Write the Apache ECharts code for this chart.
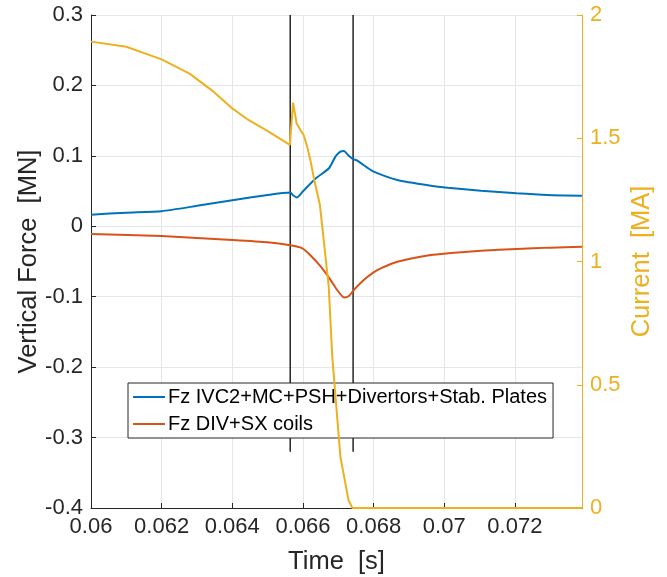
<!DOCTYPE html>
<html>
<head>
<meta charset="utf-8">
<script src="https://cdn.jsdelivr.net/npm/echarts@6/dist/echarts.min.js"></script>
<style>
    html, body { margin: 0; padding: 0; background: #fff; }
    #chartDiv { width: 667px; height: 577px; }
</style>
</head>
<body>
<div id="chartDiv"></div>
<script>
// Fz IVC2+MC+PSH+Divertors+Stab. Plates  (左轴 MN)
var timeIVC = [0.0600, 0.0610, 0.0620, 0.0630, 0.0640, 0.0650, 0.06564, 0.06572, 0.06583, 0.0660, 0.06636,
    0.06673, 0.06692, 0.06706, 0.06716, 0.06728, 0.06742, 0.06753, 0.0678, 0.0680, 0.06867, 0.06962,
    0.0701, 0.07104, 0.07205, 0.07293, 0.0739];
var fzIVC = [0.0165, 0.0193, 0.0215, 0.029, 0.037, 0.0445, 0.048, 0.044, 0.041, 0.0497, 0.068,
    0.082, 0.099, 0.106, 0.107, 0.101, 0.0955, 0.0935, 0.084, 0.0776, 0.0658, 0.0577,
    0.0548, 0.0506, 0.0469, 0.0445, 0.0435];

// Fz DIV+SX coils
var timeDIV = [0.0600, 0.0620, 0.0640, 0.0650, 0.06564, 0.06597, 0.06621, 0.0665, 0.06678, 0.06697, 0.06716,
    0.0673, 0.06744, 0.06773, 0.0680, 0.0682, 0.06867, 0.06962, 0.0701, 0.07104, 0.07205, 0.0730, 0.0739];
var fzDIV = [-0.011, -0.0138, -0.0195, -0.0228, -0.027, -0.031, -0.041, -0.057, -0.076, -0.0905, -0.101,
    -0.099, -0.0905, -0.076, -0.0655, -0.0597, -0.0503, -0.0408, -0.0384, -0.0347, -0.0322, -0.0303, -0.029];

// 电流 (右轴 MA)
var timeCur = [0.0600, 0.0610, 0.0620, 0.0628, 0.06347, 0.0640, 0.06442, 0.06498, 0.06563, 0.06572, 0.06582,
    0.06593, 0.06602, 0.06612, 0.06621, 0.06631, 0.06648, 0.06673, 0.06683, 0.06706, 0.06729, 0.0674, 0.0739];
var current = [1.892, 1.871, 1.820, 1.761, 1.689, 1.621, 1.578, 1.531, 1.473, 1.644, 1.561,
    1.533, 1.513, 1.466, 1.412, 1.337, 1.230, 0.898, 0.614, 0.208, 0.032, 0, 0];

// 两条竖线
var cursorTimes = [0.06564, 0.06742];
var cursorRange = [-0.32, 0.3];

var legendNames = ['Fz IVC2+MC+PSH+Divertors+Stab. Plates', 'Fz DIV+SX coils'];

(function() {
    var FONT = "'Liberation Sans', Arial, Helvetica, sans-serif";
    var AXIS_GRAY = '#262626';
    var COLORS = ['#0072BD', '#D95319', '#EDB120'];

    function zip(xs, ys) {
        var out = [];
        for (var i = 0; i < xs.length; i++) out.push([xs[i], ys[i]]);
        return out;
    }
    function fmt(v) {
        return String(parseFloat(v.toFixed(4)));
    }
    function curve(name, axis, xs, ys, color, smooth, z) {
        return {
            name: name, type: 'line', yAxisIndex: axis, data: zip(xs, ys),
            symbol: 'none', smooth: smooth,
            lineStyle: { color: color, width: 2 }, itemStyle: { color: color }, z: z
        };
    }

    var series = [
        curve(legendNames[0], 0, timeIVC, fzIVC, COLORS[0], 0.2, 3),
        curve(legendNames[1], 0, timeDIV, fzDIV, COLORS[1], 0.2, 3),
        curve('Current', 1, timeCur, current, COLORS[2], false, 4)
    ];
    cursorTimes.forEach(function(t, i) {
        series.push({
            name: 'cursor' + i, type: 'line', yAxisIndex: 0,
            data: [[t, cursorRange[1]], [t, cursorRange[0]]],
            symbol: 'none', silent: true,
            lineStyle: { color: AXIS_GRAY, width: 1.5 }, z: 2
        });
    });

    var option = {
        animation: false,
        backgroundColor: '#fff',
        textStyle: { fontFamily: FONT },
        grid: { left: 91, right: 85, top: 15, bottom: 69, containLabel: false, outerBoundsMode: 'none' },
        legend: {
            data: legendNames.map(function(n) { return { name: n, icon: 'rect' }; }),
            orient: 'vertical',
            left: 128, top: 383,
            padding: [4, 6, 4, 5],
            itemGap: 7,
            itemWidth: 32,
            itemHeight: 2,
            backgroundColor: '#fff',
            borderColor: AXIS_GRAY,
            borderWidth: 1,
            borderRadius: 0,
            textStyle: { fontFamily: FONT, fontSize: 20, color: '#000', padding: [0, 0, 0, -2] }
        },
        xAxis: {
            type: 'value',
            min: 0.06, max: 0.0739, interval: 0.002,
            name: 'Time  [s]', nameLocation: 'middle', nameGap: 41, nameMoveOverlap: false,
            nameTextStyle: { fontFamily: FONT, fontSize: 25.5, color: AXIS_GRAY },
            axisLine: { show: true, onZero: false, lineStyle: { color: AXIS_GRAY, width: 1 } },
            axisTick: { show: true, inside: true, length: 5, lineStyle: { color: AXIS_GRAY } },
            axisLabel: { fontFamily: FONT, fontSize: 22, color: AXIS_GRAY, margin: 8, showMaxLabel: false, formatter: fmt },
            splitLine: { show: true, lineStyle: { color: '#e6e6e6', width: 1 } }
        },
        yAxis: [
            {
                type: 'value', position: 'left',
                min: -0.4, max: 0.3, interval: 0.1,
                name: 'Vertical Force  [MN]', nameLocation: 'middle', nameGap: 49, nameRotate: 90, nameMoveOverlap: false,
                nameTextStyle: { fontFamily: FONT, fontSize: 25.5, color: AXIS_GRAY },
                axisLine: { show: true, lineStyle: { color: AXIS_GRAY, width: 1 } },
                axisTick: { show: true, inside: true, length: 5, lineStyle: { color: AXIS_GRAY } },
                axisLabel: { fontFamily: FONT, fontSize: 22, color: AXIS_GRAY, margin: 8, formatter: fmt },
                splitLine: { show: true, lineStyle: { color: '#e6e6e6', width: 1 } }
            },
            {
                type: 'value', position: 'right',
                min: 0, max: 2, interval: 0.5,
                name: 'Current  [MA]', nameLocation: 'middle', nameGap: 47, nameRotate: 90, nameMoveOverlap: false,
                nameTextStyle: { fontFamily: FONT, fontSize: 25.5, color: COLORS[2] },
                axisLine: { show: true, lineStyle: { color: COLORS[2], width: 1 } },
                axisTick: { show: true, inside: true, length: 5, lineStyle: { color: COLORS[2] } },
                axisLabel: { fontFamily: FONT, fontSize: 22, color: COLORS[2], margin: 8, formatter: fmt },
                splitLine: { show: false }
            }
        ],
        series: series
    };

    var chart = echarts.init(document.getElementById('chartDiv'), null, { renderer: 'canvas' });
    chart.setOption(option);
})();
</script>
</body>
</html>
